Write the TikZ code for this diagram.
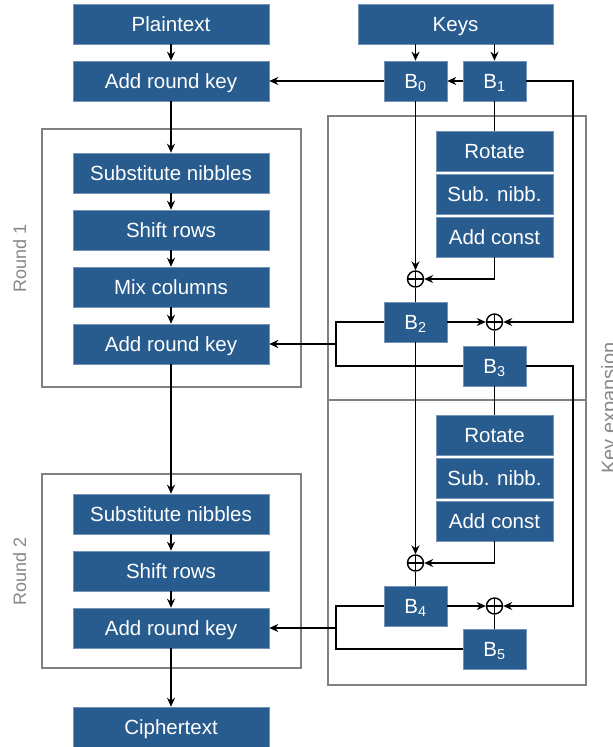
\documentclass[tikz,border=0pt]{standalone}
\usepackage{fontspec}
\setmainfont{Liberation Sans}
\usetikzlibrary{arrows.meta}
\definecolor{boxblue}{RGB}{40,91,142}
\definecolor{framegray}{RGB}{128,128,128}
\definecolor{labelgray}{RGB}{135,135,135}
\tikzset{
  blk/.style={fill=boxblue, draw=boxblue!65!white, line width=0.6pt, text=white,
    inner sep=0pt, minimum height=40pt, text height=14pt, text depth=0pt,
    font=\fontsize{20.5}{23}\selectfont},
  wide/.style={blk, minimum width=196pt},
  mid/.style={blk, minimum width=117pt},
  small/.style={blk, minimum width=63pt},
  keysbox/.style={blk, minimum width=195pt},
  frame/.style={draw=framegray, line width=1.5pt},
  glabel/.style={text=labelgray, font=\fontsize{18}{20}\selectfont, inner sep=0pt, rotate=90, anchor=north},
  ln/.style={line width=1.4pt, black},
  arr/.style={ln, -{Stealth[length=9pt, width=8pt, inset=3pt]}},
  xor/.style={circle, draw, line width=1.4pt, minimum size=16pt, inner sep=0pt,
    path picture={\draw[line width=1.4pt] (path picture bounding box.north) -- (path picture bounding box.south)
      (path picture bounding box.west) -- (path picture bounding box.east);}}
}
\begin{document}
\begin{tikzpicture}[x=1pt, y=-1pt]
\useasboundingbox (0,0) rectangle (613,747);
% frames
\draw[frame] (42,129) rectangle (301,387);
\draw[frame] (42,474) rectangle (301,668);
\draw[frame] (328,116) rectangle (586,400);
\draw[frame] (328,400) rectangle (586,685);
\node[glabel] (r1lab) at (13,258) {Round 1};
\node[glabel] (r2lab) at (13,571) {Round 2};
\node[glabel, font=\fontsize{20}{22}\selectfont] (kelab) at (601,408) {Key expansion};
% left column
\node[wide] (plain) at (171,24) {Plaintext};
\node[wide] (ark0) at (171,81) {Add round key};
\node[wide] (sn1) at (171,173) {Substitute nibbles};
\node[wide] (sr1) at (171,230) {Shift rows};
\node[wide] (mc1) at (171,287) {Mix columns};
\node[wide] (ark1) at (171,344) {Add round key};
\node[wide] (sn2) at (171,514) {Substitute nibbles};
\node[wide] (sr2) at (171,571) {Shift rows};
\node[wide] (ark2) at (171,628) {Add round key};
\node[wide] (ciph) at (171,727) {Ciphertext};
% key side
\node[keysbox] (keys) at (455.5,24) {Keys};
\node[small] (b0) at (415.5,81) {B\textsubscript{0}};
\node[small] (b1) at (494.5,81) {B\textsubscript{1}};
\node[mid] (rot1) at (494.5,151) {Rotate};
\node[mid] (sub1) at (494.5,194) {Sub. nibb.};
\node[mid] (ac1) at (494.5,237) {Add const};
\node[xor] (x1) at (415.5,279) {};
\node[small] (b2) at (415.5,322) {B\textsubscript{2}};
\node[xor] (x2) at (494.5,322) {};
\node[small] (b3) at (494.5,366) {B\textsubscript{3}};
\node[mid] (rot2) at (494.5,435) {Rotate};
\node[mid] (sub2) at (494.5,478) {Sub. nibb.};
\node[mid] (ac2) at (494.5,521) {Add const};
\node[xor] (x3) at (415.5,563) {};
\node[small] (b4) at (415.5,606) {B\textsubscript{4}};
\node[xor] (x4) at (494.5,606) {};
\node[small] (b5) at (494.5,649) {B\textsubscript{5}};
\coordinate (r1) at (573,322);
\coordinate (r2) at (573,606);
\coordinate (l1b) at (336,366);
\coordinate (l1m) at (336,344);
\coordinate (l2b) at (336,649);
\coordinate (l2m) at (336,628);
% main chain
\draw[arr] (plain) -- (ark0);
\draw[arr] (ark0) -- (sn1);
\draw[arr] (sn1) -- (sr1);
\draw[arr] (sr1) -- (mc1);
\draw[arr] (mc1) -- (ark1);
\draw[arr] (ark1) -- (sn2);
\draw[arr] (sn2) -- (sr2);
\draw[arr] (sr2) -- (ark2);
\draw[arr] (ark2) -- (ciph);
% key schedule
\draw[arr] (keys.south -| b0) -- (b0);
\draw[arr] (keys.south -| b1) -- (b1);
\draw[arr] (b1) -- (b0);
\draw[arr] (b0) -- (ark0);
\draw[arr] (b1.east) -| (r1) -- (x2);
\draw[ln] (b1) -- (rot1);
\draw[arr] (ac1.south) |- (x1);
\draw[arr] (b0) -- (x1);
\draw[ln] (x1) -- (b2);
\draw[arr] (b2) -- (x2);
\draw[ln] (x2) -- (b3);
\draw[ln] (b2.west) -| (l1b) -- (b3.west);
\draw[arr] (l1m) -- (ark1.east);
\draw[arr] (b2) -- (x3);
\draw[arr] (b3.east) -| (r2) -- (x4);
\draw[ln] (b3) -- (rot2);
\draw[arr] (ac2.south) |- (x3);
\draw[ln] (x3) -- (b4);
\draw[arr] (b4) -- (x4);
\draw[ln] (x4) -- (b5);
\draw[ln] (b4.west) -| (l2b) -- (b5.west);
\draw[arr] (l2m) -- (ark2.east);
\end{tikzpicture}
\end{document}
